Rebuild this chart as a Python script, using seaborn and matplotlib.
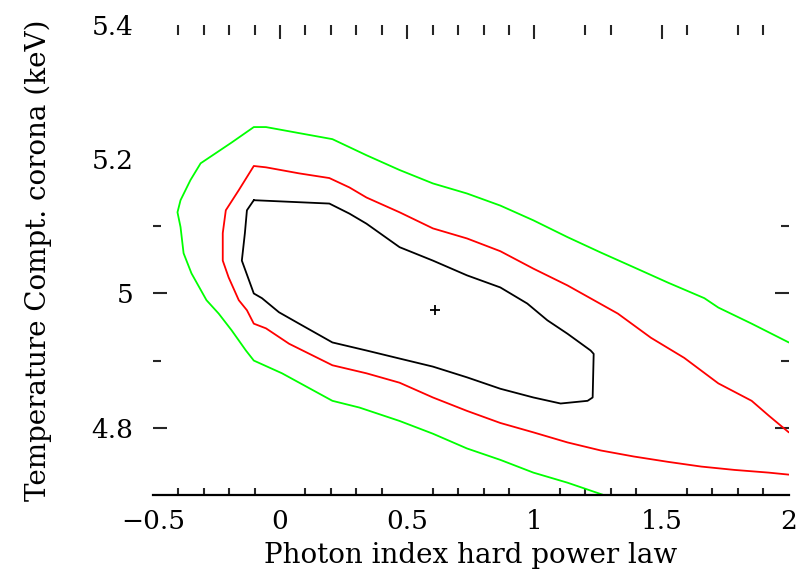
import matplotlib
matplotlib.use('Agg')
import matplotlib.pyplot as plt
import seaborn as sns
import pandas as pd

# contour levels (photon index, kT in keV)
green_x=[1.269,1.130,0.996,0.866,0.735,0.601,0.470,0.312,0.206,0.008,-0.103,-0.134,-0.190,-0.241,-0.289,-0.348,-0.379,-0.391,-0.403,
         -0.391,-0.352,-0.312,-0.249,-0.190,-0.103,-0.055,0.075,0.206,0.273,0.340,0.470,0.601,0.735,0.866,0.996,1.130,1.261,1.391,1.526,1.668,1.723,1.854,2.0]
green_y=[4.700,4.718,4.733,4.752,4.769,4.791,4.810,4.830,4.840,4.881,4.900,4.915,4.945,4.970,4.990,5.030,5.060,5.099,5.121,
         5.139,5.169,5.194,5.210,5.225,5.248,5.248,5.239,5.230,5.218,5.206,5.184,5.164,5.149,5.131,5.109,5.084,5.061,5.039,5.016,4.993,4.979,4.955,4.927]

red_x=[2.0,1.921,1.787,1.656,1.526,1.391,1.261,1.130,0.996,0.866,0.735,0.601,0.470,0.340,0.206,0.036,-0.055,-0.103,-0.130,-0.162,-0.202,-0.225,-0.225,-0.213,-0.162,
       -0.103,-0.055,0.075,0.194,0.273,0.340,0.470,0.601,0.735,0.866,0.996,1.130,1.229,1.328,1.458,1.589,1.723,1.854,1.921,2.0]
red_y=[4.730,4.733,4.737,4.742,4.749,4.757,4.766,4.778,4.793,4.807,4.825,4.845,4.867,4.881,4.893,4.925,4.948,4.955,4.975,4.990,5.024,5.049,5.090,5.124,5.154,
       5.190,5.188,5.179,5.172,5.158,5.143,5.121,5.097,5.082,5.063,5.037,5.012,4.991,4.970,4.934,4.904,4.866,4.840,4.818,4.793]

black_x=[-0.103,0.075,0.194,0.273,0.340,0.470,0.601,0.735,0.866,0.972,1.051,1.130,1.221,1.233,1.229,1.209,1.103,0.996,0.866,0.735,0.601,0.470,0.340,0.206,0.075,-0.004,-0.071,-0.103,-0.150,-0.138,-0.130,-0.103]
black_y=[5.139,5.136,5.134,5.119,5.104,5.069,5.049,5.027,5.009,4.985,4.960,4.940,4.915,4.910,4.845,4.840,4.836,4.845,4.858,4.875,4.891,4.903,4.915,4.927,4.955,4.972,4.993,5.000,5.049,5.090,5.124,5.139]

best_x=[0.609]
best_y=[4.976]

x_major=[-0.5,0,0.5,1,1.5,2]
x_labels=['\u22120.5','0','0.5','1','1.5','2']
x_minor=[-0.4,-0.3,-0.2,-0.1,0.1,0.2,0.3,0.4,0.6,0.7,0.8,0.9,1.1,1.2,1.3,1.4,1.6,1.7,1.8,1.9]
top_major=[0,0.5,1,1.5]
top_minor=[-0.4,-0.3,-0.2,-0.1,0.1,0.2,0.3,0.4,0.6,0.7,0.8,0.9,1.2,1.3,1.6,1.8,1.9]
y_major=[4.8,5.0,5.2,5.4]
y_labels=['4.8','5','5.2','5.4']
side_major=[4.8,5.0]
side_minor=[4.9,5.1]

sns.set_style('white')
plt.rcParams['font.family']=['DejaVu Serif']

fig=plt.figure(figsize=(8,5.7),dpi=100)
ax=fig.add_axes([0.191,0.132,0.795,0.824])

lw=1.3
sns.lineplot(x=green_x,y=green_y,sort=False,estimator=None,color='#00ff00',linewidth=lw,ax=ax)
sns.lineplot(x=red_x,y=red_y,sort=False,estimator=None,color='#ff0000',linewidth=lw,ax=ax)
sns.lineplot(x=black_x,y=black_y,sort=False,estimator=None,color='black',linewidth=lw,ax=ax)
sns.scatterplot(x=best_x,y=best_y,marker='+',color='black',s=60,linewidth=1.3,ax=ax)

ax.set_xlim(-0.5,2)
ax.set_ylim(4.7,5.4)
for s in ['top','left','right']:
    ax.spines[s].set_visible(False)
ax.spines['bottom'].set_linewidth(1.6)
ax.spines['bottom'].set_color('black')

ax.set_xticks(x_major)
ax.set_xticklabels(x_labels)
ax.set_xticks(x_minor,minor=True)
ax.tick_params(axis='x',which='major',direction='in',length=9,width=1.5,pad=10,labelsize=19,colors='black')
ax.tick_params(axis='x',which='minor',direction='in',length=5,width=1.5,bottom=True)
ax.set_yticks(y_major)
ax.set_yticklabels(y_labels)
ax.tick_params(axis='y',which='major',length=0,pad=14,labelsize=19,colors='black')

top=ax.secondary_xaxis('top')
top.set_xticks(top_major)
top.set_xticks(top_minor,minor=True)
top.tick_params(which='major',direction='in',length=10,width=1.5,labeltop=False)
top.tick_params(which='minor',direction='in',length=7,width=1.5)
for sec_side in ['left','right']:
    sec=ax.secondary_yaxis(sec_side)
    sec.set_yticks(side_major)
    sec.set_yticks(side_minor,minor=True)
    sec.tick_params(which='major',direction='in',length=10,width=1.5,labelleft=False,labelright=False)
    sec.tick_params(which='minor',direction='in',length=6,width=1.5)
    for sp in sec.spines.values():
        sp.set_visible(False)
for sp in top.spines.values():
    sp.set_visible(False)

ax.set_xlabel('Photon index hard power law',fontsize=20,labelpad=6,color='black')
ax.set_ylabel('Temperature Compt. corona (keV)',fontsize=20,labelpad=28,color='black')

fig.savefig('out.png',dpi=100)
